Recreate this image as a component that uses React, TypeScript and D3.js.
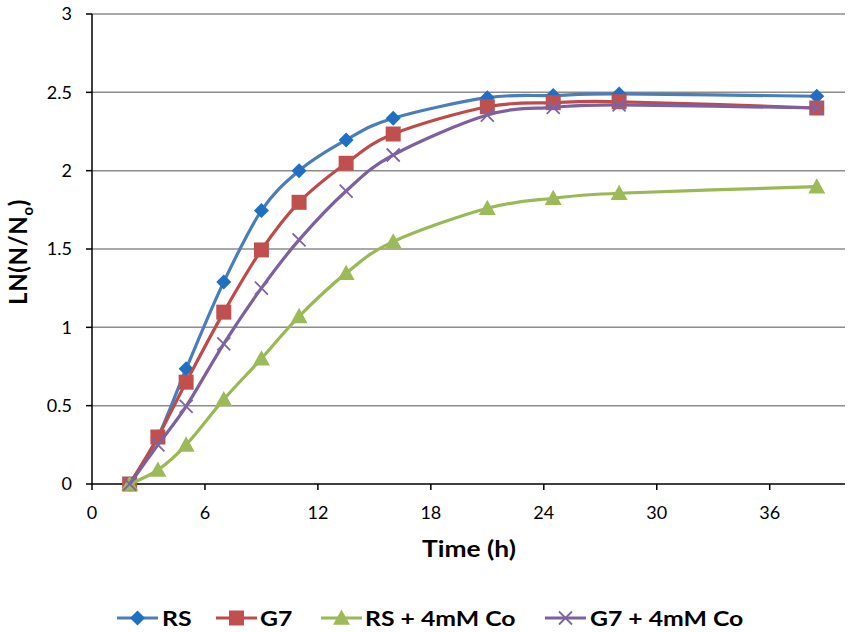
import React from "react";
import * as d3 from "d3";

const times = [2, 3.5, 5, 7, 9, 11, 13.5, 16, 21, 24.5, 28, 38.5];
const rsValues = [0, 0.3, 0.735, 1.29, 1.745, 2.0, 2.196, 2.335, 2.466, 2.48, 2.49, 2.475];
const g7Values = [0, 0.3, 0.65, 1.097, 1.494, 1.798, 2.047, 2.234, 2.408, 2.434, 2.44, 2.4];
const rsCoValues = [0, 0.09, 0.25, 0.54, 0.8, 1.07, 1.346, 1.547, 1.76, 1.824, 1.856, 1.898];
const g7CoValues = [0, 0.25, 0.495, 0.895, 1.25, 1.558, 1.87, 2.1, 2.355, 2.404, 2.42, 2.4];
const seriesNames = ["RS", "G7", "RS + 4mM Co", "G7 + 4mM Co"];
const xTicks = [0, 6, 12, 18, 24, 30, 36];
const yTicks = [0, 0.5, 1, 1.5, 2, 2.5, 3];

const W = 851;
const H = 632;
const M = { left: 92, right: 845, top: 14, bottom: 484 };
const FONT = "Lato, 'Open Sans', sans-serif";

const lineColors = ["#4A7EBB", "#BE4B48", "#98B954", "#7D60A0"];
const markerColors = ["#1F6FC5", "#C0504D", "#9BBB59", "#8064A2"];
const markerKinds = ["diamond", "square", "triangle", "x"];

function Marker({ kind, x, y, color }: { kind: string; x: number; y: number; color: string }) {
  if (kind === "diamond") {
    const s = 7.5;
    return <path d={`M${x},${y - s}L${x + s},${y}L${x},${y + s}L${x - s},${y}Z`} fill={color} />;
  }
  if (kind === "square") {
    const s = 7.5;
    return <rect x={x - s} y={y - s} width={2 * s} height={2 * s} fill={color} />;
  }
  if (kind === "triangle") {
    const s = 8.5;
    return <path d={`M${x},${y - s}L${x + s},${y + s * 0.8}L${x - s},${y + s * 0.8}Z`} fill={color} />;
  }
  const s = 6.5;
  return (
    <path
      d={`M${x - s},${y - s}L${x + s},${y + s}M${x - s},${y + s}L${x + s},${y - s}`}
      stroke={color}
      strokeWidth={1.8}
      fill="none"
    />
  );
}

export default function App() {
  const x = d3.scaleLinear().domain([0, 40]).range([M.left, M.right]);
  const y = d3.scaleLinear().domain([0, 3]).range([M.bottom, M.top]);
  const allSeries = [rsValues, g7Values, rsCoValues, g7CoValues];
  const line = d3
    .line<[number, number]>()
    .x((d) => x(d[0]))
    .y((d) => y(d[1]))
    .curve(d3.curveCatmullRom.alpha(0));

  const legendItems = [
    { lx: 117, tx: 162 },
    { lx: 216, tx: 260 },
    { lx: 321, tx: 365 },
    { lx: 545, tx: 590 },
  ];
  const legendY = 618;

  return (
    <svg
      width={W}
      height={H}
      style={{ position: "absolute", left: 0, top: 0, background: "#fff" }}
      fontFamily={FONT}
    >
      <rect width={W} height={H} fill="#fff" />
      {yTicks.map((t) => (
        <g key={"y" + t}>
          {t > 0 && (
            <line x1={M.left} x2={M.right} y1={y(t)} y2={y(t)} stroke="#8C8C8C" strokeWidth={1.5} />
          )}
          <line x1={M.left - 6} x2={M.left} y1={y(t)} y2={y(t)} stroke="#000" strokeWidth={1.5} />
          <text x={M.left - 20} y={y(t)} dy="0.35em" textAnchor="end" fontSize={18} fill="#000">
            {t}
          </text>
        </g>
      ))}
      {xTicks.map((t) => (
        <g key={"x" + t}>
          <line x1={x(t)} x2={x(t)} y1={M.bottom} y2={M.bottom + 6} stroke="#000" strokeWidth={1.5} />
          <text x={x(t)} y={M.bottom + 35} textAnchor="middle" fontSize={18} fill="#000">
            {t}
          </text>
        </g>
      ))}
      <line x1={M.left} x2={M.left} y1={M.top} y2={M.bottom} stroke="#000" strokeWidth={1.5} />
      <line x1={M.left} x2={M.right} y1={M.bottom} y2={M.bottom} stroke="#000" strokeWidth={1.5} />

      {allSeries.map((vals, i) => {
        const pts = times.map((t, j) => [t, vals[j]] as [number, number]);
        return (
          <g key={"s" + i}>
            <path d={line(pts) || ""} fill="none" stroke={lineColors[i]} strokeWidth={3.2} />
            {pts.map((p, j) => (
              <Marker key={j} kind={markerKinds[i]} x={x(p[0])} y={y(p[1])} color={markerColors[i]} />
            ))}
          </g>
        );
      })}

      <text
        transform="translate(469,557) scale(1.2,1)"
        textAnchor="middle"
        fontSize={22}
        fontWeight="bold"
        fill="#000"
      >
        Time (h)
      </text>
      <text
        transform={`translate(27,${252}) rotate(-90)`}
        textAnchor="middle"
        fontSize={24}
        fontWeight="bold"
        fill="#000"
        letterSpacing={0.6}
      >
        LN(N/N
        <tspan fontSize={15} dy={6}>o</tspan>
        <tspan dy={-6}>)</tspan>
      </text>

      {seriesNames.map((name, i) => (
        <g key={"l" + i}>
          <line
            x1={legendItems[i].lx}
            x2={legendItems[i].lx + 41}
            y1={legendY}
            y2={legendY}
            stroke={lineColors[i]}
            strokeWidth={3.2}
          />
          <Marker kind={markerKinds[i]} x={legendItems[i].lx + 20.5} y={legendY} color={markerColors[i]} />
          <text
            transform={`translate(${legendItems[i].tx},${legendY}) scale(1.18,1)`}
            dy="0.36em"
            fontSize={21}
            fontWeight="bold"
            fill="#000"
          >
            {name}
          </text>
        </g>
      ))}
    </svg>
  );
}
